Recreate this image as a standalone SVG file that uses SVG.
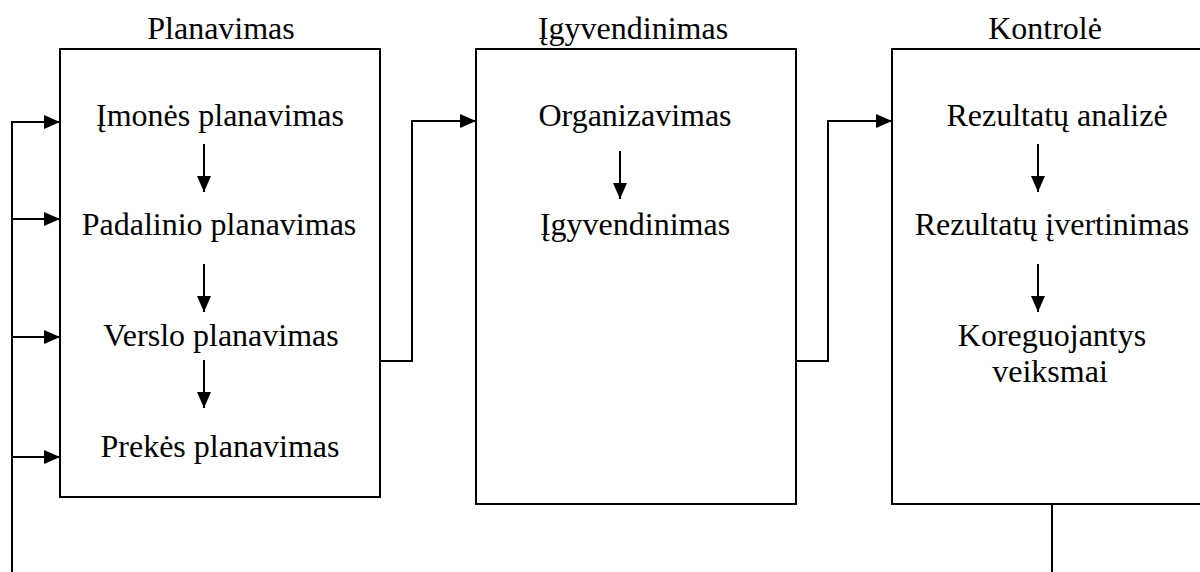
<svg xmlns="http://www.w3.org/2000/svg" width="1200" height="572" viewBox="0 0 1200 572">
  <style>
    .box { fill: #ffffff; stroke: #000000; stroke-width: 2; }
    .line { fill: none; stroke: #000000; stroke-width: 2; }
    .arr { fill: none; stroke: #000000; stroke-width: 2; marker-end: url(#head); }
    text { font-family: "Liberation Serif", "Times New Roman", serif; font-size: 32px; fill: #000000; text-anchor: middle; }
  </style>
  <defs>
    <marker id="head" viewBox="0 0 16 14" refX="16" refY="7" markerWidth="16" markerHeight="14" markerUnits="userSpaceOnUse" orient="auto">
      <path d="M0,0 L16,7 L0,14 Z" fill="#000000"/>
    </marker>
  </defs>
  <rect width="1200" height="572" fill="#ffffff"/>

  <!-- Planning stage -->
  <g id="planavimas">
    <rect class="box" x="60" y="49" width="320" height="448"/>
    <text x="221" y="39">Planavimas</text>
    <text x="220" y="126">Įmonės planavimas</text>
    <text x="219" y="235">Padalinio planavimas</text>
    <text x="221" y="346">Verslo planavimas</text>
    <text x="220" y="457">Prekės planavimas</text>
    <line class="arr" x1="204" y1="144" x2="204" y2="192"/>
    <line class="arr" x1="204" y1="264" x2="204" y2="312"/>
    <line class="arr" x1="204" y1="360" x2="204" y2="408"/>
  </g>

  <!-- Implementation stage -->
  <g id="igyvendinimas">
    <rect class="box" x="476" y="49" width="320" height="455"/>
    <text x="633" y="39">Įgyvendinimas</text>
    <text x="635" y="126">Organizavimas</text>
    <text x="635" y="235">Įgyvendinimas</text>
    <line class="arr" x1="620" y1="151" x2="620" y2="199"/>
  </g>

  <!-- Control stage -->
  <g id="kontrole">
    <rect class="box" x="892" y="49" width="320" height="455"/>
    <text x="1045" y="39">Kontrolė</text>
    <text x="1057" y="126">Rezultatų analizė</text>
    <text x="1052" y="235">Rezultatų įvertinimas</text>
    <text x="1052" y="346">Koreguojantys</text>
    <text x="1050" y="382">veiksmai</text>
    <line class="arr" x1="1038" y1="144" x2="1038" y2="192"/>
    <line class="arr" x1="1038" y1="264" x2="1038" y2="312"/>
  </g>

  <!-- Connectors between stages and feedback loop -->
  <g id="connectors">
    <polyline class="arr" points="380,361 412,361 412,121 476,121"/>
    <polyline class="arr" points="796,361 828,361 828,121 892,121"/>
    <line class="line" x1="1052" y1="504" x2="1052" y2="573"/>
    <line class="line" x1="12" y1="121" x2="12" y2="573"/>
    <line class="arr" x1="11" y1="122" x2="60" y2="122"/>
    <line class="arr" x1="11" y1="219" x2="60" y2="219"/>
    <line class="arr" x1="11" y1="337" x2="60" y2="337"/>
    <line class="arr" x1="11" y1="457" x2="60" y2="457"/>
  </g>
</svg>
